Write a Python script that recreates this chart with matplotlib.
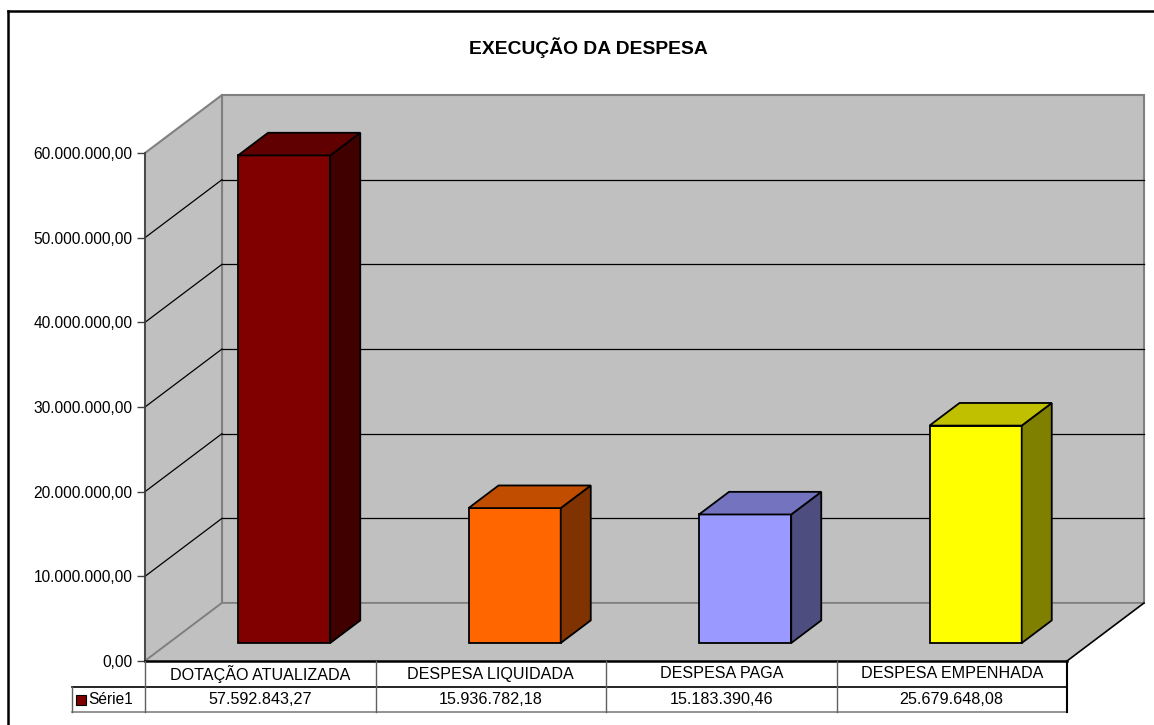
import matplotlib
matplotlib.use("Agg")
import matplotlib.pyplot as plt
from matplotlib.patches import Polygon, Rectangle
from matplotlib.lines import Line2D
from matplotlib.transforms import IdentityTransform
from matplotlib.ticker import FuncFormatter

plt.rcParams['font.family'] = ['Liberation Sans', 'DejaVu Sans']

# data
categories = ["DOTAÇÃO ATUALIZADA", "DESPESA LIQUIDADA", "DESPESA PAGA", "DESPESA EMPENHADA"]
values = [57592843.27, 15936782.18, 15183390.46, 25679648.08]
series_name = "Série1"
y_ticks = [0, 10e6, 20e6, 30e6, 40e6, 50e6, 60e6]

# excel-like colours: front, side, top
front_cols = ["#800000", "#FF6600", "#9999FF", "#FFFF00"]
side_cols = ["#400000", "#803300", "#4D4D80", "#808000"]
top_cols = ["#600000", "#C04D00", "#7373BF", "#C0C000"]


def br(v):
    s = f"{v:,.2f}"
    return s.replace(",", "X").replace(".", ",").replace("X", ".")


W, H = 1154, 725
fig = plt.figure(figsize=(W / 100, H / 100), dpi=100)
fig.patch.set_facecolor("white")

# front plane of the 3d box
L, R, B, T = 145, 1067, 661, 153
ax = fig.add_axes([L / W, (H - B) / H, (R - L) / W, (B - T) / H])
ax.set_xlim(0, len(categories))
ax.set_ylim(0, 60e6)
ax.patch.set_visible(False)
for s in ["top", "right", "bottom"]:
    ax.spines[s].set_visible(False)
ax.spines["left"].set_color("#404040")
ax.spines["left"].set_linewidth(1.2)
ax.set_xticks([])
ax.set_yticks(y_ticks)
ax.yaxis.set_major_formatter(FuncFormatter(lambda v, p: br(v)))
ax.tick_params(axis="y", length=6, width=1, color="#404040", pad=3, labelsize=11.2)

DX, DY = 77, 58  # depth offset in pixels
ID = IdentityTransform()


def P(x, y, f):
    d = ax.transData.transform((x, y))
    return (d[0] + DX * f, d[1] + DY * f)


def poly(pts, fc, ec, lw=1.0, z=1):
    ax.add_patch(Polygon(pts, closed=True, facecolor=fc, edgecolor=ec, linewidth=lw,
                         transform=ID, clip_on=False, zorder=z))


def line(p0, p1, c, lw=1.0, z=2):
    ax.add_line(Line2D([p0[0], p1[0]], [p0[1], p1[1]], color=c, linewidth=lw,
                       transform=ID, clip_on=False, zorder=z))


n = len(categories)
top = y_ticks[-1]
grey = "#C0C0C0"

# walls and floor
poly([P(0, 0, 1), P(n, 0, 1), P(n, top, 1), P(0, top, 1)], grey, "#808080", 1.5, 0.5)
poly([P(0, 0, 0), P(0, 0, 1), P(0, top, 1), P(0, top, 0)], grey, "#808080", 1.5, 0.5)
poly([P(0, 0, 0), P(n, 0, 0), P(n, 0, 1), P(0, 0, 1)], grey, "none", 0, 0.6)
line(P(0, 0, 0), P(0, 0, 1), "#808080", 1.2)
line(P(0, 0, 1), P(n, 0, 1), "#808080", 1.2)
line(P(n, 0, 0), P(n, 0, 1), "black", 1.2)

# gridlines
for v in y_ticks[1:-1]:
    line(P(0, v, 1), P(n, v, 1), "black", 0.9)
    line(P(0, v, 0), P(0, v, 1), "black", 0.9)

# bars
f0, f1 = 0.31, 0.70
bw = 0.4
for i, v in enumerate(values):
    x0 = i + 0.5 - bw / 2
    x1 = i + 0.5 + bw / 2
    poly([P(x0, 0, f0), P(x1, 0, f0), P(x1, v, f0), P(x0, v, f0)], front_cols[i], "black", 1.3, 3)
    poly([P(x1, 0, f0), P(x1, 0, f1), P(x1, v, f1), P(x1, v, f0)], side_cols[i], "black", 1.3, 3)
    poly([P(x0, v, f0), P(x1, v, f0), P(x1, v, f1), P(x0, v, f1)], top_cols[i], "black", 1.3, 3)


# data table below the box
def Tb(x, dpx):
    d = ax.transData.transform((x, 0))
    return (d[0], d[1] - dpx)


r1, r2 = 26, 51
xleg = -0.317
line(Tb(0, 0), Tb(n, 0), "black", 1.8, 4)
line(Tb(xleg, r1), Tb(n, r1), "black", 1.2, 4)
line(Tb(xleg, r2), Tb(n, r2), "#808080", 1.2, 4)
line(Tb(xleg, r1), Tb(xleg, r2), "#606060", 1.0, 4)
line(Tb(n, 0), Tb(n, r2), "black", 1.5, 4)
for k in range(n):
    line(Tb(k, 0), Tb(k, r2), "#606060", 1.0, 4)

for i, (c, v) in enumerate(zip(categories, values)):
    p = Tb(i + 0.5, r1 / 2)
    ax.text(p[0], p[1], c, transform=ID, ha="center", va="center", fontsize=11.6)
    p = Tb(i + 0.5, (r1 + r2) / 2)
    ax.text(p[0], p[1], br(v), transform=ID, ha="center", va="center", fontsize=11.6)

pm = Tb(xleg, (r1 + r2) / 2)
ax.add_patch(Rectangle((pm[0] + 4, pm[1] - 5), 10, 10, facecolor=front_cols[0], edgecolor="black",
                       linewidth=0.8, transform=ID, clip_on=False, zorder=5))
ax.text(pm[0] + 16, pm[1], series_name, transform=ID, ha="left", va="center", fontsize=11.2)

# title
fig.text(588 / W, 1 - 48 / H, "EXECUÇÃO DA DESPESA", ha="center", va="center",
         fontsize=13.9, fontweight="bold")

# outer frame (top and left visible)
fig.add_artist(Line2D([8 / W, 1], [1 - 11 / H, 1 - 11 / H], color="black", linewidth=1.8,
                      transform=fig.transFigure))
fig.add_artist(Line2D([8 / W, 8 / W], [1 - 11 / H, 0], color="black", linewidth=1.8,
                      transform=fig.transFigure))

fig.savefig("out.png", dpi=100)
